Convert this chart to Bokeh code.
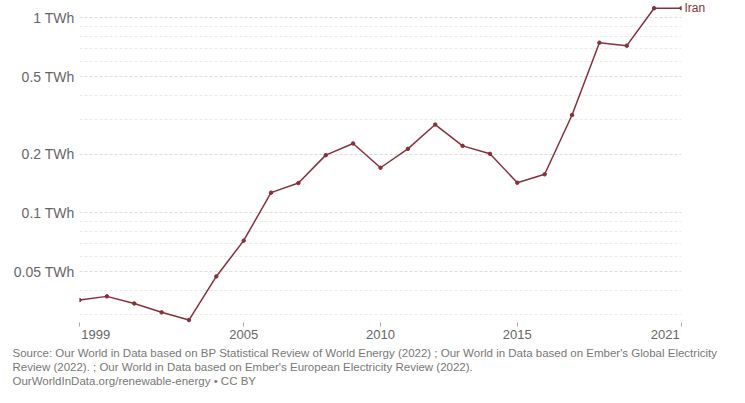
from bokeh.plotting import figure
from bokeh.models import (FixedTicker, CustomJSTickFormatter, Range1d, Title, LogAxis)
from bokeh.embed import file_html
from bokeh.resources import INLINE

years = list(range(1999, 2022))
iran_twh = [0.0357, 0.0373, 0.0343, 0.0309, 0.0282, 0.0472, 0.0720, 0.1269,
            0.1422, 0.1976, 0.2268, 0.1703, 0.2129, 0.2836, 0.2205, 0.2007,
            0.1427, 0.1576, 0.3174, 0.7455, 0.7196, 1.12, 1.12]
series_name = "Iran"
x_ticks = [1999, 2005, 2010, 2015, 2021]
y_ticks = [0.05, 0.1, 0.2, 0.5, 1]
y_minor = [0.03, 0.04, 0.06, 0.07, 0.08, 0.09, 0.3, 0.4, 0.6, 0.7, 0.8, 0.9]
source_lines = [
    "Source: Our World in Data based on BP Statistical Review of World Energy (2022) ; Our World in Data based on Ember's Global Electricity",
    "Review (2022). ; Our World in Data based on Ember's European Electricity Review (2022).",
    "OurWorldInData.org/renewable-energy \u2022 CC BY",
]

LINE = "#883039"
FONT = "Liberation Sans"
W, H = 729, 400
FL, FT, FR, FB = 79, 4, 681, 322   # frame edges on the canvas

p = figure(width=W, height=H, y_axis_type="log", output_backend="svg",
           toolbar_location=None,
           x_range=Range1d(1999, 2021), y_range=Range1d(0.0274, 1.17),
           min_border_left=FL, min_border_right=W - FR, min_border_top=FT,
           min_border_bottom=H - FB)
p.outline_line_color = None
p.background_fill_color = "white"
p.border_fill_color = "white"

p.line(years, iran_twh, line_color=LINE, line_width=1.5)
p.scatter(years, iran_twh, size=3.5, color=LINE)

# series label at the end of the line: a right-hand axis with one tick
end_axis = LogAxis(ticker=FixedTicker(ticks=[iran_twh[-1]]),
                   formatter=CustomJSTickFormatter(code="return '%s';" % series_name),
                   axis_line_color=None, major_tick_line_color=None,
                   major_tick_out=0, major_tick_in=0,
                   minor_tick_line_color=None, minor_tick_out=0, minor_tick_in=0,
                   major_label_standoff=3, major_label_text_baseline="top",
                   major_label_text_color=LINE, major_label_text_font=FONT,
                   major_label_text_font_size="12px")
p.add_layout(end_axis, "right")

# axes
NB = "\u00a0" * 9
xa = p.xaxis[0]
xa.ticker = FixedTicker(ticks=x_ticks)
xa.formatter = CustomJSTickFormatter(
    code=("const nb = '%s';"
          "if (tick == %d) return nb + String(tick);"
          "if (tick == %d) return String(tick) + nb;"
          "return String(tick);") % (NB, x_ticks[0], x_ticks[-1]))
xa.axis_line_color = None
xa.major_tick_line_color = "#aaaaaa"
xa.major_tick_out = 4
xa.major_tick_in = 0
xa.minor_tick_line_color = None
xa.major_label_text_font = FONT
xa.major_label_text_font_size = "13px"
xa.major_label_text_color = "#666666"
xa.major_label_standoff = 0

ya = p.yaxis[0]
ya.ticker = FixedTicker(ticks=y_ticks)
ya.formatter = CustomJSTickFormatter(code="return tick + ' TWh';")
ya.axis_line_color = None
ya.major_tick_line_color = None
ya.major_tick_out = 0
ya.major_tick_in = 0
ya.minor_tick_line_color = None
ya.minor_tick_out = 0
ya.major_label_text_font = FONT
ya.major_label_text_font_size = "14px"
ya.major_label_text_color = "#666666"
ya.major_label_standoff = 5

p.xgrid.grid_line_color = None
p.ygrid.ticker = FixedTicker(ticks=y_ticks, minor_ticks=y_minor)
p.ygrid.grid_line_color = "#dddddd"
p.ygrid.grid_line_dash = "3 2"
p.ygrid.minor_grid_line_color = "#eaeaea"
p.ygrid.minor_grid_line_dash = "3 2"

# source notes below the axis
for i, t in enumerate(source_lines):
    p.add_layout(Title(text=t, align="left", offset=12 - FL,
                       standoff=0, text_line_height=0.7,
                       text_font=FONT, text_font_size="11.5px",
                       text_font_style="normal", text_color="#777777"), "below")

open("out.html", "w").write(file_html(p, INLINE))
